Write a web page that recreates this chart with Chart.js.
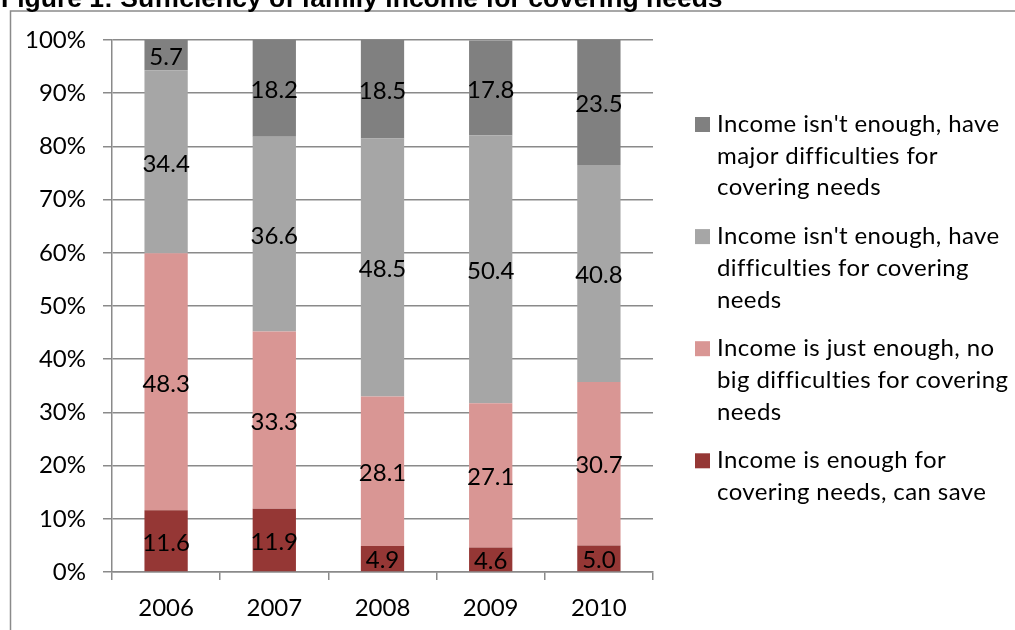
<!DOCTYPE html>
<html>
<head>
<meta charset="utf-8">
<script src="https://cdn.jsdelivr.net/npm/chart.js@4.4.1/dist/chart.umd.min.js"></script>
<style>
  html, body { margin: 0; padding: 0; background: #ffffff; }
  #wrap { width: 1015px; height: 630px; position: relative; }
</style>
</head>
<body>
<div id="wrap"><canvas id="chart" width="1015" height="630"></canvas></div>
<script>
// Survey years
const years = ['2006', '2007', '2008', '2009', '2010'];

// Share of families (%) per answer, bottom of the stack first
const enoughCanSave     = [11.6, 11.9, 4.9, 4.6, 5.0];
const justEnough        = [48.3, 33.3, 28.1, 27.1, 30.7];
const difficulties      = [34.4, 36.6, 48.5, 50.4, 40.8];
const majorDifficulties = [5.7, 18.2, 18.5, 17.8, 23.5];

// Percentage axis ticks
const yTicks = [0, 10, 20, 30, 40, 50, 60, 70, 80, 90, 100];

// Legend wording, one entry per line
const legendEnough     = ['Income is enough for', 'covering needs, can save'];
const legendJust       = ['Income is just enough, no', 'big difficulties for covering', 'needs'];
const legendDifficult  = ["Income isn't enough, have", 'difficulties for covering', 'needs'];
const legendMajor      = ["Income isn't enough, have", 'major difficulties for', 'covering needs'];

const titleText = 'Figure 1: Sufficiency of family income for covering needs';

const FONT = 'Lato, Calibri, Carlito, sans-serif';
const FONT_SIZE = 24;
const GRID = '#8a8a8a';

const datasets = [
  { label: legendEnough.join(' '),    lines: legendEnough,    data: enoughCanSave,     backgroundColor: '#953735' },
  { label: legendJust.join(' '),      lines: legendJust,      data: justEnough,        backgroundColor: '#d99694' },
  { label: legendDifficult.join(' '), lines: legendDifficult, data: difficulties,      backgroundColor: '#a6a6a6' },
  { label: legendMajor.join(' '),     lines: legendMajor,     data: majorDifficulties, backgroundColor: '#808080' }
].map(d => Object.assign(d, { barPercentage: 0.4, categoryPercentage: 1.0, borderWidth: 0 }));

// Title, outer frame and white background
const framePlugin = {
  id: 'frame',
  beforeDraw(chart) {
    const ctx = chart.ctx;
    ctx.save();
    ctx.fillStyle = '#ffffff';
    ctx.fillRect(0, 0, chart.width, chart.height);
    ctx.strokeStyle = '#8a8a8a';
    ctx.lineWidth = 1.5;
    ctx.beginPath();
    ctx.moveTo(10.5, chart.height);
    ctx.lineTo(10.5, 11);
    ctx.lineTo(chart.width, 11);
    ctx.stroke();
    ctx.fillStyle = '#000000';
    ctx.font = 'bold 26.5px "Liberation Sans", Arial, sans-serif';
    ctx.textAlign = 'left';
    ctx.textBaseline = 'alphabetic';
    ctx.fillText(titleText, 1, 7);
    ctx.restore();
  }
};

// Value written in the middle of each bar segment
const valueLabels = {
  id: 'valueLabels',
  afterDatasetsDraw(chart) {
    const ctx = chart.ctx;
    ctx.save();
    ctx.fillStyle = '#000000';
    ctx.font = FONT_SIZE + 'px ' + FONT;
    ctx.textAlign = 'center';
    ctx.textBaseline = 'middle';
    chart.data.datasets.forEach((ds, i) => {
      const meta = chart.getDatasetMeta(i);
      meta.data.forEach((bar, j) => {
        const v = ds.data[j];
        ctx.fillText(v.toFixed(1), bar.x, (bar.y + bar.base) / 2 + 2);
      });
    });
    ctx.restore();
  }
};

// Legend on the right, top series first, multi-line entries
const sideLegend = {
  id: 'sideLegend',
  afterDraw(chart) {
    const ctx = chart.ctx;
    const opts = chart.options.plugins.sideLegend;
    ctx.save();
    ctx.font = FONT_SIZE + 'px ' + FONT;
    ctx.letterSpacing = opts.letterSpacing;
    ctx.textAlign = 'left';
    ctx.textBaseline = 'alphabetic';
    let y = opts.top;
    const items = chart.data.datasets.slice().reverse();
    items.forEach(ds => {
      ctx.fillStyle = ds.backgroundColor;
      ctx.fillRect(opts.boxX, y - opts.boxSize, opts.boxSize, opts.boxSize);
      ctx.fillStyle = '#000000';
      ds.lines.forEach((line, k) => {
        ctx.fillText(line, opts.textX, y + k * opts.lineHeight);
      });
      y += ds.lines.length * opts.lineHeight + opts.gap;
    });
    ctx.restore();
  }
};

Chart.defaults.font.family = FONT;
Chart.defaults.font.size = FONT_SIZE;
Chart.defaults.color = '#000000';

new Chart(document.getElementById('chart'), {
  type: 'bar',
  data: { labels: years, datasets },
  options: {
    responsive: false,
    animation: false,
    events: [],
    layout: { padding: { left: 0, top: 40, right: 362, bottom: 0 } },
    plugins: {
      legend: { display: false },
      tooltip: { enabled: false },
      sideLegend: { top: 132, boxX: 695, boxSize: 15, textX: 717, lineHeight: 31.7, gap: 17, letterSpacing: '0.4px' }
    },
    scales: {
      x: {
        stacked: true,
        grid: { display: true, drawOnChartArea: false, drawTicks: true, tickLength: 8, color: GRID, lineWidth: 1.5, offset: true },
        border: { display: true, color: GRID, width: 1.5 },
        ticks: { padding: 14, color: '#000000', font: { size: FONT_SIZE } },
        afterFit(scale) { scale.height = 58; }
      },
      y: {
        stacked: true,
        min: 0,
        max: 100,
        afterBuildTicks(scale) { scale.ticks = yTicks.map(v => ({ value: v })); },
        grid: { color: GRID, lineWidth: 1.5, tickLength: 9, drawTicks: true },
        border: { display: true, color: GRID, width: 1.5 },
        ticks: { padding: 17, color: '#000000', font: { size: FONT_SIZE }, callback: v => v + '%' },
        afterFit(scale) { scale.width = 112; }
      }
    }
  },
  plugins: [framePlugin, valueLabels, sideLegend]
});
</script>
</body>
</html>
